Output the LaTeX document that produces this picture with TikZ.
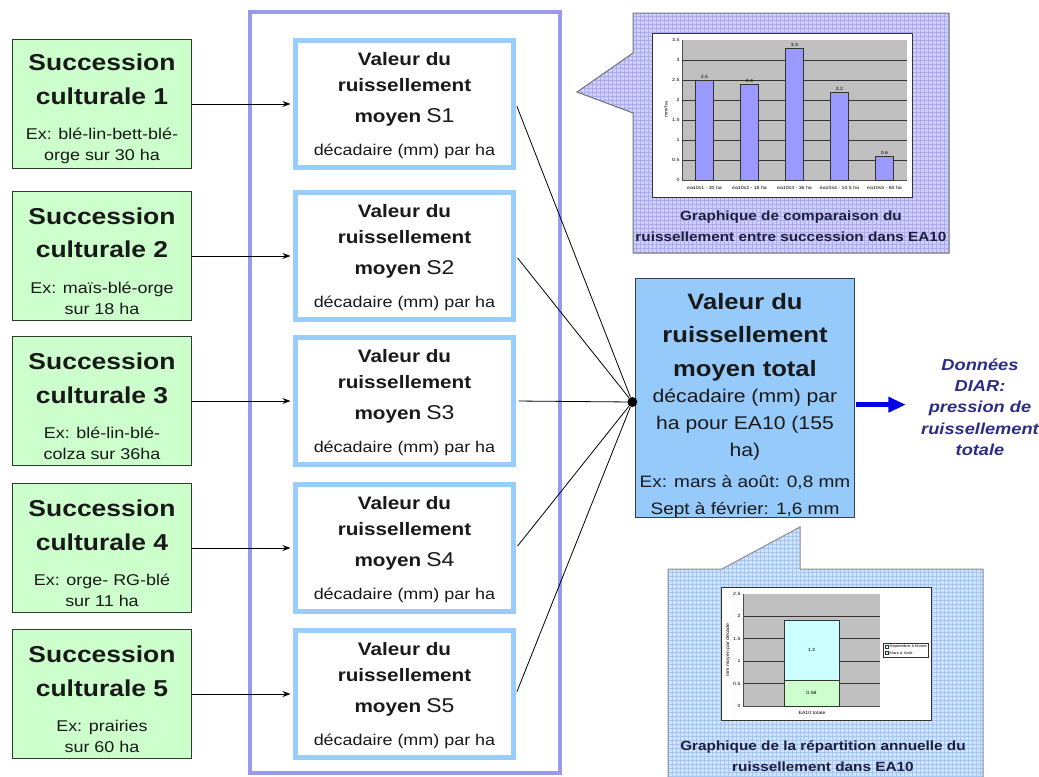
\documentclass[tikz,border=0pt]{standalone}
\usepackage{fontspec}
\setmainfont{Liberation Sans}[FakeStretch=1.15]
\usepackage{xcolor}
\usepackage{tikz}
\usetikzlibrary{positioning,arrows.meta,calc}
\definecolor{succfill}{RGB}{204,255,204}
\definecolor{succline}{RGB}{45,60,45}
\definecolor{valline}{RGB}{153,204,255}
\definecolor{grpline}{RGB}{153,153,238}
\definecolor{totfill}{RGB}{150,202,250}
\definecolor{totline}{RGB}{55,60,85}
\definecolor{diarc}{RGB}{45,45,135}
\definecolor{bluearr}{RGB}{0,0,230}
\definecolor{capc}{RGB}{30,30,60}
\definecolor{calla}{RGB}{206,206,255}
\definecolor{callagrid}{RGB}{172,172,235}
\definecolor{callb}{RGB}{208,228,255}
\definecolor{callbgrid}{RGB}{165,198,242}
\definecolor{plotbg}{RGB}{192,192,192}
\definecolor{barc}{RGB}{153,153,255}
\definecolor{sepfev}{RGB}{204,255,255}
\definecolor{marsaout}{RGB}{204,255,204}
\newcommand{\fsucc}{\fontsize{17.25}{20}\selectfont\bfseries}
\newcommand{\fval}{\fontsize{13.5}{16}\selectfont\bfseries}
\newcommand{\fsnum}{\fontsize{15}{17}\selectfont\mdseries}
\newcommand{\ftot}{\fontsize{16.7}{20}\selectfont\bfseries}
\newcommand{\fex}{\fontsize{12.4}{14}\selectfont}
\newcommand{\dropby}[1]{\rule{0pt}{#1}}
\newcommand{\succtxt}[3]{{\fsucc\dropby{20pt}Succession}\\[9.65pt]{\fsucc culturale #1}\\[10.75pt]#2\\#3}
\newcommand{\valtxt}[1]{{\fval\dropby{12pt}Valeur du}\\{\fval ruissellement}\\[3.5pt]{\fval moyen} {\fsnum S#1}\\[5.25pt]décadaire (mm) par ha}
\tikzset{
  succ/.style={draw=succline,line width=1.1pt,fill=succfill,minimum width=133.9pt,minimum height=96.4pt,
    inner sep=0pt,align=center,font=\fontsize{11.7}{15.8}\selectfont,text=black!90},
  val/.style={draw=valline,line width=3.75pt,fill=white,minimum width=163.5pt,minimum height=95.25pt,
    inner sep=0pt,align=center,font=\fontsize{11.7}{19.5}\selectfont,text=black!90},
  tot/.style={draw=totline,line width=1.1pt,fill=totfill,minimum width=163.9pt,minimum height=178.9pt,inner sep=0pt},
  tottxt/.style={inner sep=0pt,align=center,font=\fontsize{13.8}{20}\selectfont,text=black!90},
  hub/.style={circle,fill=black,inner sep=0pt,minimum size=7.5pt},
  ar/.style={-{Stealth[length=6pt,width=4.5pt]},line width=0.75pt,shorten >=1.9pt},
  feed/.style={line width=0.6pt,shorten <=1.9pt},
  bigar/.style={-{Triangle[length=13pt,width=11pt]},line width=3.75pt,bluearr},
  capt/.style={align=center,font=\fontsize{10}{15.75}\selectfont\bfseries,text=capc},
  ticklab/.style={inner sep=1pt,font=\fontsize{3.4}{4}\selectfont},
}
\begin{document}
\begin{tikzpicture}[x=0.75pt,y=-0.75pt]
  \useasboundingbox (0,0) rectangle (1039,776);
  \fill[white] (0,0) rectangle (1039,776);
  % group frame
  \draw[grpline,line width=3pt] (250,12) rectangle (560,773);
  \node[succ] (sc1) at (102,104) {\succtxt{1}{Ex: blé-lin-bett-blé-}{orge sur 30 ha}};
  \node[succ] (sc2) at (102,256) {\succtxt{2}{Ex: maïs-blé-orge}{sur 18 ha}};
  \node[succ] (sc3) at (102,401) {\succtxt{3}{Ex: blé-lin-blé-}{colza sur 36ha}};
  \node[succ] (sc4) at (102,548) {\succtxt{4}{Ex: orge- RG-blé}{sur 11 ha}};
  \node[succ] (sc5) at (102,694) {\succtxt{5}{Ex: prairies}{sur 60 ha}};
  \node[val,right=75.75pt of sc1] (v1) {\valtxt{1}};
  \node[val,right=75.75pt of sc2] (v2) {\valtxt{2}};
  \node[val,right=75.75pt of sc3] (v3) {\valtxt{3}};
  \node[val,right=75.75pt of sc4] (v4) {\valtxt{4}};
  \node[val,right=75.75pt of sc5] (v5) {\valtxt{5}};
  \draw[ar] (sc1) -- (v1);
  \draw[ar] (sc2) -- (v2);
  \draw[ar] (sc3) -- (v3);
  \draw[ar] (sc4) -- (v4);
  \draw[ar] (sc5) -- (v5);
  \node[tot] (tot) at (745,398) {};
  \node[tottxt] (tottxt) at (tot.center) {{\ftot\dropby{23.4pt}Valeur du}\\[4.5pt]{\ftot ruissellement}\\[5.5pt]{\ftot moyen total}\\
    décadaire (mm) par\\ha pour EA10 (155\\ha)\\[3.75pt]{\fex Ex: mars à août: 0,8 mm}\\{\fex Sept à février: 1,6 mm}};
  \node[hub] (hub) at ([xshift=-2pt,yshift=-3pt]tot.west) {};
  \draw[feed] (v1.east) -- (hub);
  \draw[feed] (v2.east) -- (hub);
  \draw[feed] (v3.east) -- (hub);
  \draw[feed] (v4.east) -- (hub);
  \draw[feed] (v5.east) -- (hub);
  \node[align=center,font=\fontsize{11.9}{16}\selectfont\bfseries\itshape,text=diarc] (diar) at (980,407)
    {Données\\DIAR:\\pression de\\ruissellement\\totale};
  \draw[bigar,shorten <=1pt,shorten >=8pt] ([yshift=-5pt]tot.east) -- ([yshift=-5pt]tot.east -| diar.west);
  % callout: comparaison
  \fill[calla] (633,13) -- (949,13) -- (949,253) -- (633,253) -- (633,113) -- (577,92) -- (633,53) -- cycle;
  \begin{scope}
    \clip (633,13) -- (949,13) -- (949,253) -- (633,253) -- (633,113) -- (577,92) -- (633,53) -- cycle;
    \draw[callagrid,line width=0.3pt,step=3pt] (570,5) grid (955,260);
  \end{scope}
  \draw[black!55,line width=0.75pt] (633,13) -- (949,13) -- (949,253) -- (633,253) -- (633,113) -- (577,92) -- (633,53) -- cycle;
  \filldraw[fill=white,draw=black!80,line width=0.6pt] (652,33) rectangle (912,197);
  \fill[plotbg] (682,40) rectangle (907,180);
  \foreach \yy in {60,80,...,160} \draw[black!80,line width=0.7pt] (682,\yy) -- (907,\yy);
  \draw[black!70,line width=0.4pt] (682,40) -- (682,180) -- (907,180);
  \foreach \yy/\lab [count=\i] in {40/3.5,60/3,80/2.5,100/2,120/1.5,140/1,160/0.5,180/0}
    \node[ticklab,left] (ya\i) at (681,\yy) {\lab};
  \foreach \xx/\yy/\lab [count=\i] in {704.5/80/2.5,749.5/84/2.4,794.5/48/3.3,839.5/92/2.2,884.5/156/0.6}{
    \filldraw[fill=barc,draw=black!80,line width=0.5pt] (\xx-9,180) rectangle (\xx+9,\yy);
    \node[ticklab,above] (vb\i) at (\xx,\yy) {\lab};
  }
  \foreach \xx/\lab [count=\i] in {704.5/ea10s1 - 30 ha,749.5/ea10s2 - 18 ha,794.5/ea10s3 - 36 ha,839.5/ea10s4 - 10.5 ha,884.5/ea10s5 - 60 ha}
    \node[ticklab] (ca\i) at (\xx,188) {\lab};
  \node[ticklab,rotate=90] (yt) at (666,110) {mm/ha};
  \node[capt] (capa) at (791,226) {Graphique de comparaison du\\ruissellement entre succession dans EA10};
  % callout: repartition
  \fill[callb] (668,569) -- (722,569) -- (800,527) -- (800,569) -- (983,569) -- (983,780) -- (668,780) -- cycle;
  \begin{scope}
    \clip (668,569) -- (722,569) -- (800,527) -- (800,569) -- (983,569) -- (983,780) -- (668,780) -- cycle;
    \draw[callbgrid,line width=0.3pt,step=3pt] (660,520) grid (990,780);
  \end{scope}
  \draw[black!45,line width=0.75pt] (668,780) -- (668,569) -- (722,569) -- (800,527) -- (800,569) -- (983,569) -- (983,780);
  \filldraw[fill=white,draw=black!80,line width=0.6pt] (721,587) rectangle (931,720);
  \fill[plotbg] (743,594) rectangle (880,706);
  \foreach \yy in {616.4,638.8,661.2,683.6} \draw[black!80,line width=0.7pt] (743,\yy) -- (880,\yy);
  \draw[black!70,line width=0.4pt] (743,594) -- (743,706) -- (880,706);
  \foreach \yy/\lab [count=\i] in {594/2.5,616.4/2,638.8/1.5,661.2/1,683.6/0.5,706/0}
    \node[ticklab,left] (yb\i) at (742,\yy) {\lab};
  \filldraw[fill=marsaout,draw=black!80,line width=0.5pt] (784,706) rectangle (839,680);
  \filldraw[fill=sepfev,draw=black!80,line width=0.5pt] (784,680) rectangle (839,620);
  \node[ticklab] (vsep) at (811.5,650) {1.3};
  \node[ticklab] (vmar) at (811.5,693) {0.58};
  \node[ticklab] (xt) at (812,713) {EA10 totale};
  \node[ticklab,rotate=90] (ytb) at (728,650) {mm moyen par décade};
  \filldraw[fill=white,draw=black!80,line width=0.4pt] (883,643) rectangle (928,657);
  \filldraw[fill=sepfev,draw=black!80,line width=0.3pt] (885,645.5) rectangle (888,648.5);
  \filldraw[fill=marsaout,draw=black!80,line width=0.3pt] (885,651.5) rectangle (888,654.5);
  \node[ticklab,anchor=west,inner sep=0.5pt,font=\fontsize{2.8}{3}\selectfont] (lsep) at (888.5,647) {Septembre à février};
  \node[ticklab,anchor=west,inner sep=0.5pt,font=\fontsize{2.8}{3}\selectfont] (lmar) at (888.5,653) {Mars à Août};
  \node[capt] (capb) at (823,756) {Graphique de la répartition annuelle du\\ruissellement dans EA10};
\end{tikzpicture}
\end{document}
